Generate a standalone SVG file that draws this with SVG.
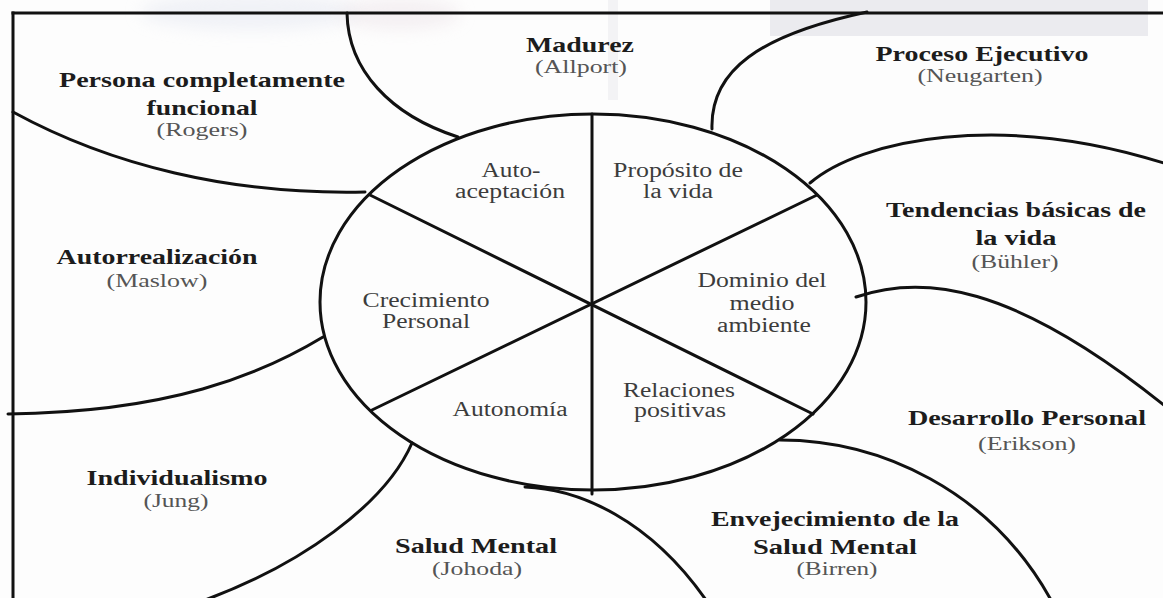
<svg xmlns="http://www.w3.org/2000/svg" width="1163" height="598" viewBox="0 0 1163 598">
  <style>
    .ln{fill:none;stroke:#111;stroke-width:3;stroke-linecap:round}
    .bd{fill:#111}
    .t{font-family:"Liberation Serif","Times New Roman",serif;font-weight:bold;font-size:22px;fill:#1c1c1c;text-anchor:middle}
    .s{font-family:"Liberation Serif","Times New Roman",serif;font-size:19px;fill:#555;text-anchor:middle}
    .c{font-family:"Liberation Serif","Times New Roman",serif;font-size:20px;fill:#3c3c3c;text-anchor:middle}
  </style>
  <defs>
    <filter id="blur" x="-50%" y="-50%" width="200%" height="200%"><feGaussianBlur stdDeviation="8"/></filter>
  </defs>
  <rect width="1163" height="598" fill="#fdfdfd"/>
  <g id="background">
    <rect x="770" y="0" width="378" height="36" fill="#ebebef"/>
    <rect x="608" y="0" width="10" height="100" fill="#f3f3f5"/>
    <ellipse cx="250" cy="12" rx="110" ry="18" fill="#e3e6f0" opacity="0.5" filter="url(#blur)"/>
    <ellipse cx="400" cy="14" rx="60" ry="16" fill="#ece3e8" opacity="0.5" filter="url(#blur)"/>
  </g>
  <g id="connectors">
    <path class="ln" d="M347,13 C348,70 390,115 458,137"/>
    <path class="ln" d="M712,129 C710,70 760,35 867,12"/>
    <path class="ln" d="M13,112 C110,165 230,195 365,192"/>
    <path class="ln" d="M323,337 C260,375 170,412 8,414"/>
    <path class="ln" d="M412,443 C385,505 300,565 205,600"/>
    <path class="ln" d="M525,487 C580,489 650,520 706,600"/>
    <path class="ln" d="M780,440 C880,440 990,490 1051,600"/>
    <path class="ln" d="M856,297 C920,275 1010,280 1170,410"/>
    <path class="ln" d="M810,183 C860,140 1000,110 1170,165"/>
  </g>
  <g id="frame">
    <rect class="bd" x="11.5" y="11.5" width="1152" height="3"/>
    <rect class="bd" x="11.5" y="11.5" width="3" height="587"/>
  </g>
  <g id="wheel">
    <ellipse class="ln" cx="593" cy="302" rx="273" ry="188"/>
    <line class="ln" x1="592" y1="114" x2="592" y2="494"/>
    <line class="ln" x1="370" y1="195" x2="813" y2="414"/>
    <line class="ln" x1="817" y1="195" x2="372" y2="410"/>
  </g>
  <g id="sector-autoaceptacion">
    <text class="c" x="511" y="177" textLength="59" lengthAdjust="spacingAndGlyphs">Auto-</text>
    <text class="c" x="510" y="198" textLength="110" lengthAdjust="spacingAndGlyphs">aceptación</text>
  </g>
  <g id="sector-proposito">
    <text class="c" x="678" y="177" textLength="130" lengthAdjust="spacingAndGlyphs">Propósito de</text>
    <text class="c" x="678" y="198" textLength="70" lengthAdjust="spacingAndGlyphs">la vida</text>
  </g>
  <g id="sector-dominio">
    <text class="c" x="762" y="287" textLength="129" lengthAdjust="spacingAndGlyphs">Dominio del</text>
    <text class="c" x="762" y="310" textLength="65" lengthAdjust="spacingAndGlyphs">medio</text>
    <text class="c" x="764" y="332" textLength="94" lengthAdjust="spacingAndGlyphs">ambiente</text>
  </g>
  <g id="sector-relaciones">
    <text class="c" x="679" y="397" textLength="112" lengthAdjust="spacingAndGlyphs">Relaciones</text>
    <text class="c" x="680" y="417" textLength="92" lengthAdjust="spacingAndGlyphs">positivas</text>
  </g>
  <g id="sector-autonomia">
    <text class="c" x="510" y="416" textLength="115" lengthAdjust="spacingAndGlyphs">Autonomía</text>
  </g>
  <g id="sector-crecimiento">
    <text class="c" x="426" y="307" textLength="127" lengthAdjust="spacingAndGlyphs">Crecimiento</text>
    <text class="c" x="426" y="328" textLength="88" lengthAdjust="spacingAndGlyphs">Personal</text>
  </g>
  <g id="node-rogers">
    <text class="t" x="202" y="87" textLength="286" lengthAdjust="spacingAndGlyphs">Persona completamente</text>
    <text class="t" x="202" y="115" textLength="111" lengthAdjust="spacingAndGlyphs">funcional</text>
    <text class="s" x="202" y="136" textLength="91" lengthAdjust="spacingAndGlyphs">(Rogers)</text>
  </g>
  <g id="node-allport">
    <text class="t" x="580" y="52" textLength="108" lengthAdjust="spacingAndGlyphs">Madurez</text>
    <text class="s" x="581" y="73" textLength="92" lengthAdjust="spacingAndGlyphs">(Allport)</text>
  </g>
  <g id="node-neugarten">
    <text class="t" x="982" y="61" textLength="213" lengthAdjust="spacingAndGlyphs">Proceso Ejecutivo</text>
    <text class="s" x="980" y="82" textLength="125" lengthAdjust="spacingAndGlyphs">(Neugarten)</text>
  </g>
  <g id="node-maslow">
    <text class="t" x="157" y="264" textLength="201" lengthAdjust="spacingAndGlyphs">Autorrealización</text>
    <text class="s" x="157" y="287" textLength="101" lengthAdjust="spacingAndGlyphs">(Maslow)</text>
  </g>
  <g id="node-buhler">
    <text class="t" x="1016" y="217" textLength="260" lengthAdjust="spacingAndGlyphs">Tendencias básicas de</text>
    <text class="t" x="1016" y="245" textLength="81" lengthAdjust="spacingAndGlyphs">la vida</text>
    <text class="s" x="1015" y="268" textLength="87" lengthAdjust="spacingAndGlyphs">(Bühler)</text>
  </g>
  <g id="node-jung">
    <text class="t" x="177" y="485" textLength="181" lengthAdjust="spacingAndGlyphs">Individualismo</text>
    <text class="s" x="176" y="507" textLength="65" lengthAdjust="spacingAndGlyphs">(Jung)</text>
  </g>
  <g id="node-johoda">
    <text class="t" x="476" y="553" textLength="162" lengthAdjust="spacingAndGlyphs">Salud Mental</text>
    <text class="s" x="477" y="575" textLength="90" lengthAdjust="spacingAndGlyphs">(Johoda)</text>
  </g>
  <g id="node-birren">
    <text class="t" x="835" y="526" textLength="248" lengthAdjust="spacingAndGlyphs">Envejecimiento de la</text>
    <text class="t" x="835" y="554" textLength="164" lengthAdjust="spacingAndGlyphs">Salud Mental</text>
    <text class="s" x="837" y="575" textLength="81" lengthAdjust="spacingAndGlyphs">(Birren)</text>
  </g>
  <g id="node-erikson">
    <text class="t" x="1027" y="425" textLength="238" lengthAdjust="spacingAndGlyphs">Desarrollo Personal</text>
    <text class="s" x="1027" y="450" textLength="98" lengthAdjust="spacingAndGlyphs">(Erikson)</text>
  </g>
</svg>
